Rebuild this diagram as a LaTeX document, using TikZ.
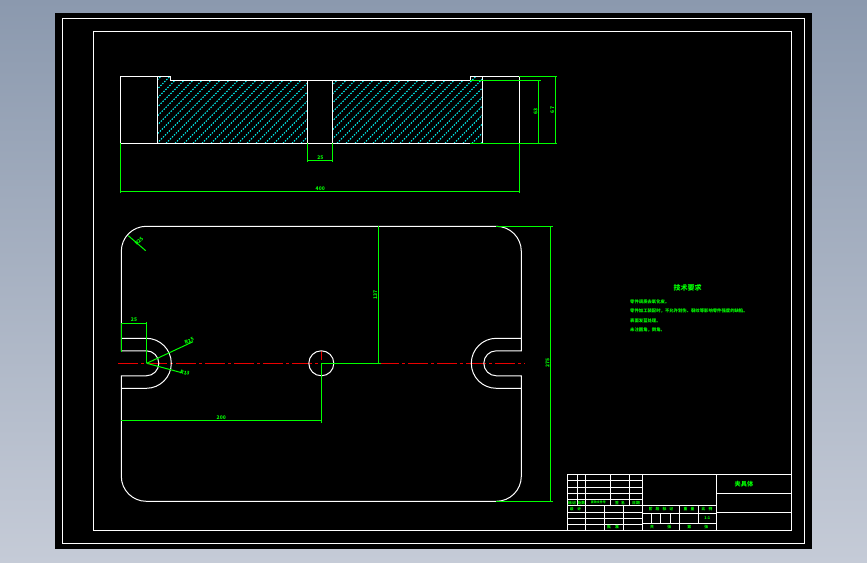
\documentclass[tikz,border=0pt]{standalone}
\usepackage{fontspec}
\setmainfont{Noto Sans CJK SC}
\definecolor{cadgreen}{RGB}{0,255,0}
\definecolor{cadred}{RGB}{235,0,0}
\definecolor{cadcyan}{RGB}{0,255,255}
\definecolor{wintop}{RGB}{139,153,174}
\definecolor{winbottom}{RGB}{197,203,215}
\newcommand{\cadfont}[1]{\fontsize{#1}{#1}\selectfont\bfseries}
\tikzset{
    outline/.style={draw=white, line width=1pt, line join=miter},
    dimline/.style={draw=cadgreen, line width=1pt},
    centerline/.style={draw=cadred, line width=1pt, dash pattern=on 20pt off 3pt on 3pt off 3pt},
    hatchline/.style={draw=cadcyan, line width=1pt, dash pattern=on 1.4pt off 1.4pt},
    tabline/.style={draw=white, line width=1pt},
    dimtext/.style={text=cadgreen, font=\cadfont{5}, inner sep=0pt},
    notetext/.style={text=cadgreen, font=\cadfont{4.35}, inner sep=0pt, anchor=west},
    tabtext/.style={text=cadgreen, font=\cadfont{3.8}, inner sep=0pt}
}
\begin{document}
\begin{tikzpicture}[x=1pt, y=1pt]
    % Window background and sheet
    \useasboundingbox (0,0) rectangle (867,562);
    \shade[top color=wintop, bottom color=winbottom] (0,0) rectangle (867,562);
    \fill[black] (55,13) rectangle (812,549);
    \draw[outline] (62.3,18.7) rectangle (804.7,543.7);
    \draw[outline] (93.3,31.7) rectangle (791.3,530.3);
    % Hatching of the section
    \begin{scope}
        \clip (157.3,418.7) -- (157.3,485.7) -- (170.3,485.7) -- (170.3,481.7) -- (307.3,481.7) -- (307.3,418.7) -- cycle
              (332.3,418.7) -- (332.3,481.7) -- (470.3,481.7) -- (470.3,485.7) -- (482.3,485.7) -- (482.3,418.7) -- cycle;
        \foreach \d in {0,9,...,423} {
            \draw[hatchline] (85+\d,418.7) -- ++(70,70);
        }
    \end{scope}
    % Section outline
    \draw[outline] (120.3,485.7) -- (170.3,485.7) -- (170.3,481.7) -- (470.3,481.7) -- (470.3,485.7) -- (519.3,485.7) -- (519.3,418.7) -- (120.3,418.7) -- cycle;
    \foreach \x in {157.3,482.3} {
        \draw[outline] (\x,418.7) -- (\x,485.7);
    }
    \foreach \x in {307.3,332.3} {
        \draw[outline] (\x,418.7) -- (\x,481.7);
    }
    % Centre line
    \draw[centerline] (118,198.7) -- (525,198.7);
    \draw[draw=cadred, line width=1pt] (321.3,211.3) -- (321.3,202);
    % Plate outline with the two slots
    \draw[outline] (146.3,335.7) -- (496.3,335.7) arc[start angle=90, end angle=0, radius=25pt]
        -- (521.3,211.2) -- (496.3,211.2) arc[start angle=90, end angle=270, radius=12.5pt]
        -- (521.3,186.2) -- (521.3,85.7) arc[start angle=0, end angle=-90, radius=25pt]
        -- (146.3,60.7) arc[start angle=270, end angle=180, radius=25pt]
        -- (121.3,186.2) -- (146.3,186.2) arc[start angle=-90, end angle=90, radius=12.5pt]
        -- (121.3,211.2) -- (121.3,310.7) arc[start angle=180, end angle=90, radius=25pt] -- cycle;
    \draw[outline] (121.3,223.7) -- (146.3,223.7) arc[start angle=90, end angle=-90, radius=25pt] -- (121.3,173.7);
    \draw[outline] (521.3,223.7) -- (496.3,223.7) arc[start angle=90, end angle=270, radius=25pt] -- (521.3,173.7);
    \draw[outline] (321.3,198.7) circle[radius=12.5pt];
    % Dimensions of the section
    \draw[dimline] (120.3,418.7) -- (120.3,369);
    \draw[dimline] (519.3,418.7) -- (519.3,369);
    \draw[dimline] (120.3,370.7) -- (519.3,370.7);
    \draw[dimline] (307.3,418.7) -- (307.3,400.3);
    \draw[dimline] (332.3,418.7) -- (332.3,400.3);
    \draw[dimline] (307.3,401.7) -- (332.3,401.7);
    \draw[dimline] (470.3,481.7) -- (540.7,481.7);
    \draw[dimline] (519.3,485.7) -- (556.7,485.7);
    \draw[dimline] (470.3,418.7) -- (556.7,418.7);
    \draw[dimline] (538.7,418.7) -- (538.7,481.7);
    \draw[dimline] (555.3,418.7) -- (555.3,485.7);
    \node[dimtext] (w400) at (320.3,373.8) {400};
    \node[dimtext] (slot25) at (320.3,404.8) {25};
    \node[dimtext, rotate=90] (h63) at (535.5,450.3) {63};
    \node[dimtext, rotate=90] (h67) at (552.2,452) {67};
    % Dimensions of the plate
    \draw[dimline] (496,335.7) -- (553,335.7);
    \draw[dimline] (496,60.7) -- (553,60.7);
    \draw[dimline] (550.7,60.7) -- (550.7,335.7);
    \draw[dimline] (321.3,198.7) -- (380.7,198.7);
    \draw[dimline] (378.3,198.7) -- (378.3,335.7);
    \draw[dimline] (321.3,198.7) -- (321.3,139.3);
    \draw[dimline] (121.3,141.7) -- (321.3,141.7);
    \draw[dimline] (121.3,210.3) -- (121.3,238.7) -- (146.7,238.7);
    \draw[dimline] (146.7,239.7) -- (146.7,198.7);
    \draw[dimline] (146.7,198.7) -- (193,220.3);
    \draw[dimline] (146.7,198.7) -- (181.7,189.3);
    \draw[dimline] (128.3,326.3) -- (145.7,311.3);
    \node[dimtext, rotate=90] (h275) at (547.5,198.7) {275};
    \node[dimtext, rotate=90] (h137) at (375.2,267) {137};
    \node[dimtext] (w200) at (221.3,144.8) {200};
    \node[dimtext] (s25) at (134,242) {25};
    \node[dimtext, rotate=25] (r25) at (189.3,221) {R25};
    \node[dimtext, rotate=-15] (r12) at (185,189.3) {R13};
    \node[dimtext, rotate=45] (rc) at (139,321) {R25};
    % Technical requirements
    \node[text=cadgreen, font=\cadfont{7}, inner sep=0pt] (reqtitle) at (687.7,273.7) {技术要求};
    \node[notetext] (req1) at (630,260.3) {零件调质去氧化皮。};
    \node[notetext] (req2) at (630,251) {零件加工装配时，不允许划伤、裂纹等影响零件强度的缺陷。};
    \node[notetext] (req3) at (630,241) {表面发蓝处理。};
    \node[notetext] (req4) at (630,232.3) {未注圆角，倒角。};
    % Title block, frame and main divisions
    \draw[tabline] (567.3,31.7) -- (567.3,87.7) -- (791.3,87.7);
    \foreach \x in {642.3,716.3} {
        \draw[tabline] (\x,31.7) -- (\x,87.7);
    }
    \foreach \y in {68.7,49.7} {
        \draw[tabline] (716.3,\y) -- (791.3,\y);
    }
    % Title block, left table
    \foreach \y in {81.7,74.7,68.3,62.3,56.3,49.3,43.7,37.7} {
        \draw[tabline] (567.3,\y) -- (642.3,\y);
    }
    \foreach \x in {577.3,585.3,610.3,629.3} {
        \draw[tabline] (\x,56.3) -- (\x,87.7);
    }
    \foreach \x in {585.3,604.3,623.3} {
        \draw[tabline] (\x,31.7) -- (\x,56.3);
    }
    % Title block, middle table
    \foreach \y in {56.7,48.7,38.7} {
        \draw[tabline] (642.3,\y) -- (716.3,\y);
    }
    \draw[tabline] (679.3,31.7) -- (679.3,56.7);
    \draw[tabline] (698.3,38.7) -- (698.3,56.7);
    \foreach \x in {651.3,660.3,670.3} {
        \draw[tabline] (\x,38.7) -- (\x,48.7);
    }
    % Title block, texts
    \node[text=cadgreen, font=\cadfont{6.2}, inner sep=0pt] (partname) at (744,78) {夹具体};
    \node[tabtext] (t1) at (572,59.3) {标记};
    \node[tabtext] (t2) at (581.3,59.3) {处数};
    \node[tabtext, font=\cadfont{3}] (t3) at (598.3,59.3) {更改文件号};
    \node[tabtext] (t4) at (620,59.3) {签\hspace{2pt}名};
    \node[tabtext] (t5) at (636,59.3) {日期};
    \node[tabtext] (t6) at (575.5,52.8) {设\hspace{3.5pt}计};
    \node[tabtext] (t7) at (613,34.7) {批\hspace{4pt}准};
    \node[tabtext] (t8) at (661,52.7) {阶\hspace{3pt}段\hspace{3pt}标\hspace{3pt}记};
    \node[tabtext] (t9) at (689,52.7) {重\hspace{3pt}量};
    \node[tabtext] (t10) at (707,52.7) {比\hspace{3pt}例};
    \node[tabtext] (t11) at (707.3,43.7) {1:1};
    \node[tabtext] (t12) at (652,35) {共};
    \node[tabtext] (t13) at (669.3,35) {张};
    \node[tabtext] (t14) at (689.3,35) {第};
    \node[tabtext] (t15) at (706.3,35) {张};
\end{tikzpicture}
\end{document}
